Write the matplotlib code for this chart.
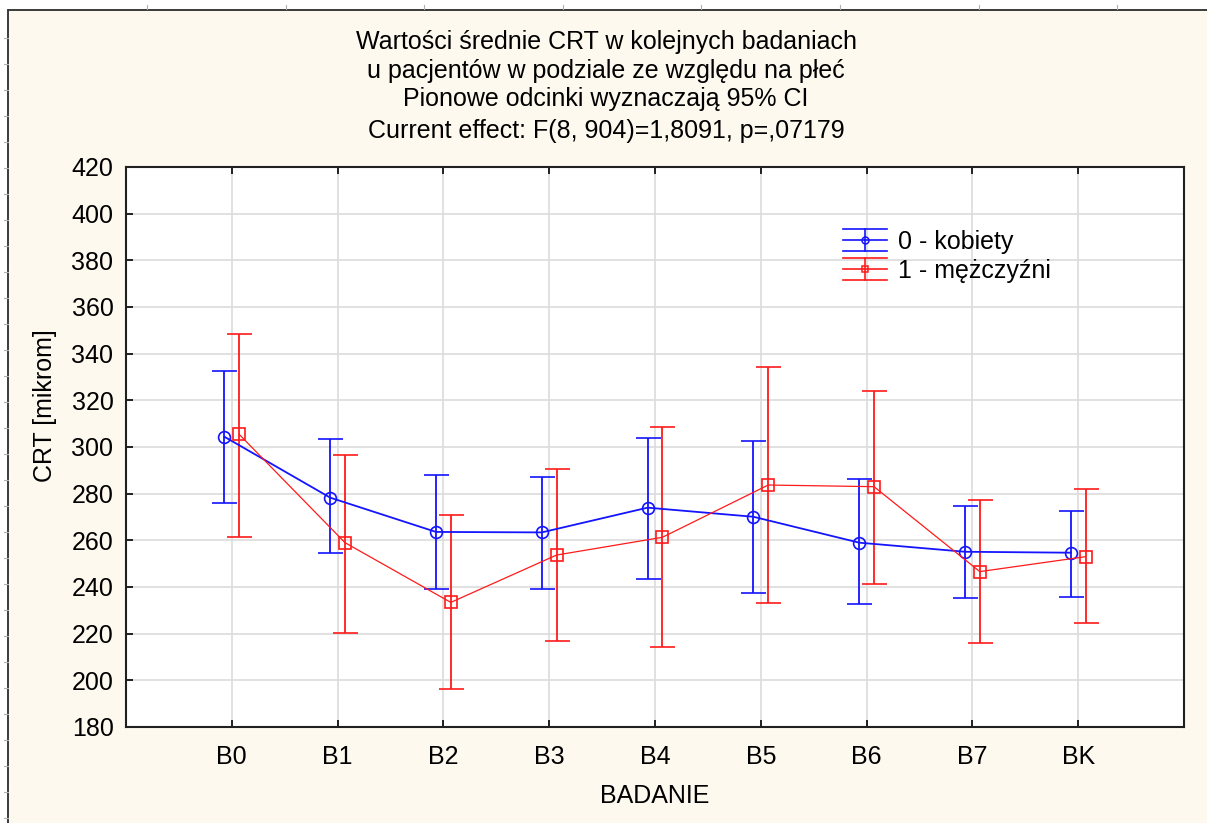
import matplotlib
matplotlib.use("Agg")
import matplotlib.pyplot as plt
import numpy as np
from matplotlib.patches import Rectangle
from matplotlib.lines import Line2D
from matplotlib.legend_handler import HandlerBase

plt.rcParams['font.family'] = ['Liberation Sans', 'DejaVu Sans']

# data
badania = ["B0", "B1", "B2", "B3", "B4", "B5", "B6", "B7", "BK"]

kobiety_mean = [304.4, 278.3, 263.6, 263.4, 274.0, 270.1, 259.0, 255.1, 254.7]
kobiety_low = [276.1, 254.4, 239.1, 239.1, 243.3, 237.3, 232.6, 235.2, 235.8]
kobiety_high = [332.7, 303.3, 287.9, 287.3, 303.7, 302.6, 286.1, 274.7, 272.7]

mezczyzni_mean = [305.4, 259.0, 233.4, 253.7, 261.3, 283.7, 283.0, 246.6, 253.0]
mezczyzni_low = [261.6, 220.5, 196.4, 216.9, 214.3, 233.3, 241.3, 216.1, 224.7]
mezczyzni_high = [348.4, 296.4, 270.9, 290.6, 308.4, 334.2, 324.1, 277.3, 282.0]

W, H = 1207, 823
FS = 18
BLUE = "#1414ff"
RED = "#ff1a1a"


class ErrGlyph(HandlerBase):
    # legend glyph like the original: caps as long horizontal lines
    def __init__(self, color, marker):
        super().__init__()
        self.color = color
        self.marker = marker

    def create_artists(self, legend, orig_handle, xdescent, ydescent,
                       width, height, fontsize, trans):
        x0, x1 = -xdescent, -xdescent + width
        xc = (x0 + x1) / 2
        yc = -ydescent + height / 2
        d = 8.0
        kw = dict(color=self.color, lw=1.2, transform=trans)
        arts = [Line2D([x0, x1], [yc + d, yc + d], **kw),
                Line2D([x0, x1], [yc, yc], **kw),
                Line2D([x0, x1], [yc - d, yc - d], **kw),
                Line2D([xc, xc], [yc - d, yc + d], **kw),
                Line2D([xc], [yc], marker=self.marker, ms=5, mfc="none",
                       mec=self.color, mew=1.1, ls="none", transform=trans)]
        return arts


fig = plt.figure(figsize=(W / 100, H / 100), dpi=100, facecolor="white")

# cream panel with a dark frame on top/left
fig.patches.append(Rectangle((8 / W, -0.05), 1.1, (H - 10) / H + 0.05,
                             transform=fig.transFigure, facecolor="#FEF9EF",
                             edgecolor="#3a3a3a", linewidth=1.4, zorder=-5))
# ruler marks outside the panel
for yy in np.arange(38, H, 26):
    fig.lines.append(Line2D([4 / W, 8 / W], [1 - yy / H, 1 - yy / H],
                            transform=fig.transFigure, color="#b0b0b0", lw=0.8,
                            zorder=-4))
for xx in np.arange(147, W, 138.6):
    fig.lines.append(Line2D([xx / W, xx / W], [1 - 5 / H, 1 - 9 / H],
                            transform=fig.transFigure, color="#b0b0b0", lw=0.8,
                            zorder=-4))

ax = fig.add_axes([126 / W, 1 - 727 / H, 1058 / W, 560 / H])
ax.set_zorder(2)
ax.set_facecolor("white")

x = np.arange(len(badania))
off = 0.07

k_mean = np.array(kobiety_mean)
m_mean = np.array(mezczyzni_mean)
k_err = [k_mean - np.array(kobiety_low), np.array(kobiety_high) - k_mean]
m_err = [m_mean - np.array(mezczyzni_low), np.array(mezczyzni_high) - m_mean]

eb_k = ax.errorbar(x - off, k_mean, yerr=k_err, color=BLUE, lw=1.3, elinewidth=1.3,
                   capsize=9, capthick=1.3, marker="o", ms=8.5, mfc="none", mew=1.2,
                   label="0 - kobiety", zorder=3)
eb_m = ax.errorbar(x + off, m_mean, yerr=m_err, color=RED, lw=0.9, elinewidth=1.3,
                   capsize=9, capthick=1.3, marker="s", ms=8.5, mfc="none", mew=1.2,
                   label="1 - mężczyźni", zorder=3)

ax.set_xlim(-1, 9)
ax.set_ylim(180, 420)
ax.set_xticks(x)
ax.set_xticklabels(badania)
ax.set_yticks(np.arange(180, 421, 20))
ax.grid(True, color="#dcdcdc", lw=1.2, zorder=0)
ax.set_axisbelow(True)

ax.tick_params(axis="both", direction="in", labelsize=FS, length=5, width=1.2,
               colors="black")
ax.tick_params(axis="x", top=True, pad=13)
ax.tick_params(axis="y", pad=9)
for s in ax.spines.values():
    s.set_linewidth(1.5)
    s.set_color("#202020")

leg = ax.legend([eb_k, eb_m], ["0 - kobiety", "1 - mężczyźni"],
                handler_map={eb_k: ErrGlyph(BLUE, "o"), eb_m: ErrGlyph(RED, "s")},
                loc="upper left", bbox_to_anchor=(843 / W, 1 - 230 / H),
                bbox_transform=fig.transFigure, frameon=False, fontsize=FS,
                borderpad=0, borderaxespad=0, handlelength=1.75,
                handletextpad=0.45, labelspacing=0.2)

cx = 606 / W
fig.text(cx, 1 - 42 / H, "Wartości średnie CRT w kolejnych badaniach",
         ha="center", va="center", fontsize=FS)
fig.text(cx, 1 - 71 / H, "u pacjentów w podziale ze względu na płeć",
         ha="center", va="center", fontsize=FS)
fig.text(cx, 1 - 99 / H, "Pionowe odcinki wyznaczają 95% CI",
         ha="center", va="center", fontsize=FS)
fig.text(cx, 1 - 131 / H, "Current effect: F(8, 904)=1,8091, p=,07179",
         ha="center", va="center", fontsize=FS)

fig.text(45 / W, 1 - 406 / H, "CRT [mikrom]", rotation=90,
         ha="center", va="center", fontsize=FS)
fig.text(655 / W, 1 - 796 / H, "BADANIE", ha="center", va="center", fontsize=FS)

fig.savefig("out.png", dpi=100, facecolor="white")
